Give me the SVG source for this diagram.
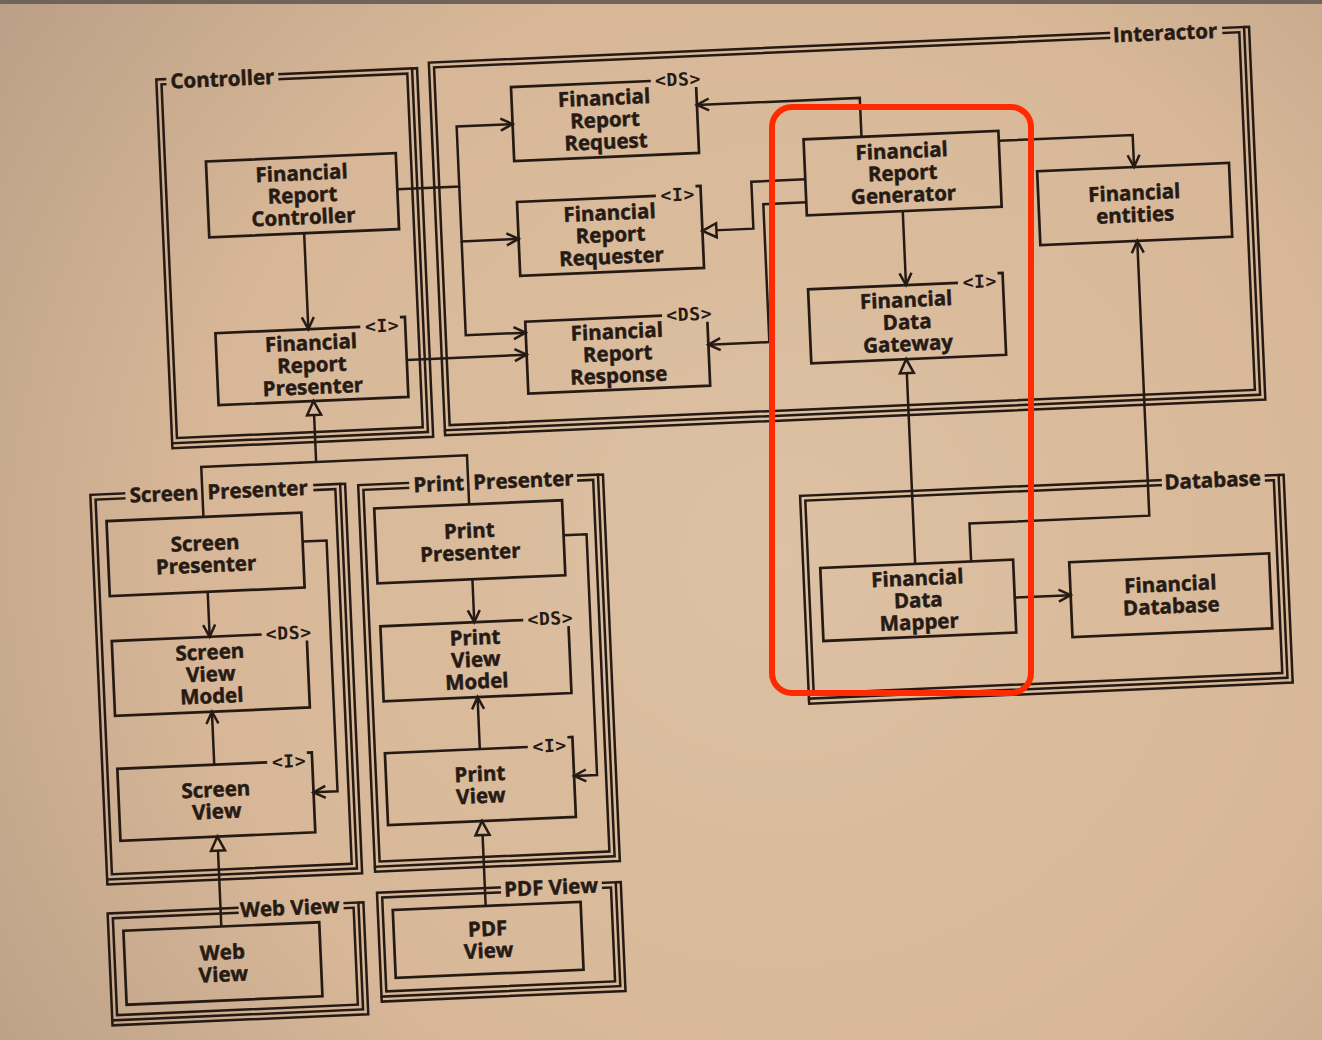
<svg xmlns="http://www.w3.org/2000/svg" width="1322" height="1040" viewBox="0 0 1322 1040">
<defs>
  <radialGradient id="paper" gradientUnits="userSpaceOnUse" cx="780" cy="560" r="980">
    <stop offset="0" stop-color="#ddc1a3"/>
    <stop offset="0.6" stop-color="#d7b797"/>
    <stop offset="1" stop-color="#b99d85"/>
  </radialGradient>
  <marker id="open" markerUnits="userSpaceOnUse" markerWidth="16" markerHeight="14" refX="13" refY="6" orient="auto" overflow="visible">
    <path d="M1,0 L13,6 L1,12" fill="none" stroke="#261a14" stroke-width="2.5"/>
  </marker>
  <marker id="tri" markerUnits="userSpaceOnUse" markerWidth="18" markerHeight="16" refX="15" refY="7" orient="auto" overflow="visible">
    <path d="M1,0 L15,7 L1,14 Z" fill="#d8ba9a" stroke="#261a14" stroke-width="2.5"/>
  </marker>
  <style>
    .pk{fill:none;stroke:#261a14;stroke-width:2.5}
    .bx{fill:none;stroke:#261a14;stroke-width:2.7}
    .ln{fill:none;stroke:#261a14;stroke-width:2.5}
    .ar{marker-end:url(#open)}
    .ih{marker-end:url(#tri)}
    .mask{fill:url(#paper)}
    .t{font-family:"Open Sans","Noto Sans","DejaVu Sans",sans-serif;font-weight:700;font-size:20.5px;fill:#261a14;stroke:#261a14;stroke-width:0.5;text-anchor:middle}
    .pl{font-family:"Open Sans","Noto Sans","DejaVu Sans",sans-serif;font-weight:700;font-size:20.5px;fill:#261a14;stroke:#261a14;stroke-width:0.5}
    .e{text-anchor:end}
    .st{font-family:"DejaVu Sans Mono","Liberation Mono",monospace;font-weight:700;font-size:18px;letter-spacing:0.6px;fill:#261a14;text-anchor:end}
  </style>
</defs>
<rect x="0" y="0" width="1322" height="1040" fill="#d6b696"/>
<g id="diagram" transform="rotate(-2.5 660 520)">
  <rect x="-120" y="-120" width="1562" height="1280" class="mask"/>

  <!-- packages -->
  <g id="pkg-controller">
    <rect class="pk" x="176" y="58" width="256" height="364"/>
    <rect class="pk" x="181" y="63" width="246" height="354"/>
    <path class="pk" d="M432,58 H437 V427 H176 V422"/>
    <rect class="mask" x="186" y="49" width="112" height="22"/>
    <text class="pl" x="190" y="67.5">Controller</text>
  </g>
  <g id="pkg-interactor">
    <rect class="pk" x="449" y="53" width="816" height="368"/>
    <rect class="pk" x="454" y="58" width="806" height="358"/>
    <path class="pk" d="M1265,53 H1270 V426 H449 V421"/>
    <rect class="mask" x="1131" y="44" width="112" height="22"/>
    <text class="pl e" x="1238" y="62.5">Interactor</text>
  </g>
  <g id="pkg-screen-presenter">
    <rect class="pk" x="92" y="470" width="250" height="385"/>
    <rect class="pk" x="97" y="475" width="240" height="375"/>
    <path class="pk" d="M342,470 H347 V860 H92 V855"/>
    <rect class="mask" x="127" y="461" width="188" height="22"/>
    <text class="pl e" x="200" y="479.5">Screen</text>
    <text class="pl" x="209" y="479.5">Presenter</text>
  </g>
  <g id="pkg-print-presenter">
    <rect class="pk" x="360" y="472" width="240" height="382"/>
    <rect class="pk" x="365" y="477" width="230" height="372"/>
    <path class="pk" d="M600,472 H605 V859 H360 V854"/>
    <rect class="mask" x="411" y="463" width="168" height="22"/>
    <text class="pl e" x="466" y="481.5">Print</text>
    <text class="pl" x="475" y="481.5">Presenter</text>
  </g>
  <g id="pkg-web-view">
    <rect class="pk" x="91" y="889" width="251" height="107"/>
    <rect class="pk" x="96" y="894" width="241" height="97"/>
    <path class="pk" d="M342,889 H347 V1001 H91 V996"/>
    <rect class="mask" x="222" y="880" width="105" height="22"/>
    <text class="pl e" x="323" y="898.5">Web View</text>
  </g>
  <g id="pkg-pdf-view">
    <rect class="pk" x="361" y="880" width="239" height="104"/>
    <rect class="pk" x="366" y="885" width="229" height="94"/>
    <path class="pk" d="M600,880 H605 V989 H361 V984"/>
    <rect class="mask" x="485" y="871" width="101" height="22"/>
    <text class="pl e" x="582" y="889.5">PDF View</text>
  </g>
  <g id="pkg-database">
    <rect class="pk" x="801" y="502" width="479" height="203"/>
    <rect class="pk" x="806" y="507" width="469" height="193"/>
    <path class="pk" d="M1280,502 H1285 V710 H801 V705"/>
    <rect class="mask" x="1163" y="493" width="103" height="22"/>
    <text class="pl e" x="1262" y="511.5">Database</text>
  </g>

  <!-- nodes -->
  <g id="financial-report-controller">
    <rect class="bx" x="222" y="142" width="190" height="76"/>
    <text class="t" x="317" y="165">Financial</text>
    <text class="t" x="317" y="187">Report</text>
    <text class="t" x="317" y="209">Controller</text>
  </g>
  <g id="financial-report-presenter">
    <path class="bx" d="M369,314 H224 V386 H414 V306 H409"/>
    <text class="st" x="408" y="320">&lt;I&gt;</text>
    <text class="t" x="319" y="335">Financial</text>
    <text class="t" x="319" y="357">Report</text>
    <text class="t" x="319" y="379">Presenter</text>
  </g>
  <g id="financial-report-request">
    <path class="bx" d="M670,81 H530 V155 H715 V89"/>
    <text class="st" x="720" y="87">&lt;DS&gt;</text>
    <text class="t" x="622.5" y="103">Financial</text>
    <text class="t" x="622.5" y="125">Report</text>
    <text class="t" x="622.5" y="147">Request</text>
  </g>
  <g id="financial-report-requester">
    <path class="bx" d="M670,196 H531 V270 H715 V188 H710"/>
    <text class="st" x="709" y="202">&lt;I&gt;</text>
    <text class="t" x="623" y="218">Financial</text>
    <text class="t" x="623" y="240">Report</text>
    <text class="t" x="623" y="262">Requester</text>
  </g>
  <g id="financial-report-response">
    <path class="bx" d="M671,316 H534 V388 H716 V324"/>
    <text class="st" x="721" y="322">&lt;DS&gt;</text>
    <text class="t" x="625" y="337">Financial</text>
    <text class="t" x="625" y="359">Report</text>
    <text class="t" x="625" y="381">Response</text>
  </g>
  <g id="financial-report-generator">
    <rect class="bx" x="820" y="146" width="195" height="76"/>
    <text class="t" x="917.5" y="169">Financial</text>
    <text class="t" x="917.5" y="191">Report</text>
    <text class="t" x="917.5" y="213">Generator</text>
  </g>
  <g id="financial-entities">
    <rect class="bx" x="1052" y="188" width="192" height="74"/>
    <text class="t" x="1148" y="221">Financial</text>
    <text class="t" x="1148" y="243">entities</text>
  </g>
  <g id="financial-data-gateway">
    <path class="bx" d="M968,296 H818 V370 H1013 V288 H1008"/>
    <text class="st" x="1007" y="302">&lt;I&gt;</text>
    <text class="t" x="915.5" y="318">Financial</text>
    <text class="t" x="915.5" y="340">Data</text>
    <text class="t" x="915.5" y="362">Gateway</text>
  </g>
  <g id="financial-data-mapper">
    <rect class="bx" x="818" y="575" width="193" height="73"/>
    <text class="t" x="914.5" y="596.5">Financial</text>
    <text class="t" x="914.5" y="618.5">Data</text>
    <text class="t" x="914.5" y="640.5">Mapper</text>
  </g>
  <g id="financial-database">
    <rect class="bx" x="1067" y="580" width="200" height="75"/>
    <text class="t" x="1167" y="613.5">Financial</text>
    <text class="t" x="1167" y="635.5">Database</text>
  </g>
  <g id="screen-presenter">
    <rect class="bx" x="107" y="497" width="195" height="75"/>
    <text class="t" x="204.5" y="530.5">Screen</text>
    <text class="t" x="204.5" y="552.5">Presenter</text>
  </g>
  <g id="screen-view-model">
    <path class="bx" d="M257,617 H107 V692 H302 V625"/>
    <text class="st" x="307" y="623">&lt;DS&gt;</text>
    <text class="t" x="204.5" y="639.5">Screen</text>
    <text class="t" x="204.5" y="661.5">View</text>
    <text class="t" x="204.5" y="683.5">Model</text>
  </g>
  <g id="screen-view">
    <path class="bx" d="M257,745 H107 V817 H302 V737 H297"/>
    <text class="st" x="296" y="751">&lt;I&gt;</text>
    <text class="t" x="204.5" y="777">Screen</text>
    <text class="t" x="204.5" y="799">View</text>
  </g>
  <g id="web-view">
    <rect class="bx" x="106" y="907" width="196" height="74"/>
    <text class="t" x="204" y="940">Web</text>
    <text class="t" x="204" y="962">View</text>
  </g>
  <g id="print-presenter">
    <rect class="bx" x="375" y="496" width="188" height="75"/>
    <text class="t" x="469" y="529.5">Print</text>
    <text class="t" x="469" y="551.5">Presenter</text>
  </g>
  <g id="print-view-model">
    <path class="bx" d="M519,614 H376 V689 H564 V622"/>
    <text class="st" x="569" y="620">&lt;DS&gt;</text>
    <text class="t" x="470" y="636.5">Print</text>
    <text class="t" x="470" y="658.5">View</text>
    <text class="t" x="470" y="680.5">Model</text>
  </g>
  <g id="print-view">
    <path class="bx" d="M518,741 H375 V813 H563 V733 H558"/>
    <text class="st" x="557" y="747">&lt;I&gt;</text>
    <text class="t" x="469" y="773">Print</text>
    <text class="t" x="469" y="795">View</text>
  </g>
  <g id="pdf-view">
    <rect class="bx" x="376" y="898" width="188" height="68"/>
    <text class="t" x="470" y="928">PDF</text>
    <text class="t" x="470" y="950">View</text>
  </g>

  <!-- connectors -->
  <g id="connectors">
    <path class="ln ar" d="M317,218 V314"/>
    <path class="ln ar" d="M412,178 H474 V118 H530"/>
    <path class="ln ar" d="M474,178 V233 H531"/>
    <path class="ln ar" d="M474,233 V327 H534"/>
    <path class="ln ar" d="M414,349 H534"/>
    <path class="ln ar" d="M878,146 V107 H715"/>
    <path class="ln ih" d="M820,186 H766 V233 H715"/>
    <path class="ln ar" d="M820,209 H777 V347 H716"/>
    <path class="ln ar" d="M916,222 V296"/>
    <path class="ln ar" d="M1015,156 H1149 V188"/>
    <path class="ln ih" d="M913,575 V370"/>
    <path class="ln ar" d="M969,575 V537 H1149 V262"/>
    <path class="ln ar" d="M1011,613 H1067"/>
    <path class="ln" d="M204,497 V447 H470 V496"/>
    <path class="ln ih" d="M319,447 V386"/>
    <path class="ln ar" d="M205,572 V617"/>
    <path class="ln ar" d="M302,526 H326 V777 H302"/>
    <path class="ln ar" d="M204,745 V692"/>
    <path class="ln ih" d="M204,907 V817"/>
    <path class="ln ar" d="M470,571 V614"/>
    <path class="ln ar" d="M563,531 H586 V772 H563"/>
    <path class="ln ar" d="M470,741 V689"/>
    <path class="ln ih" d="M469,898 V813"/>
  </g>
</g>
<rect x="0" y="0" width="1322" height="4" fill="#6f645b"/>
<rect id="highlight" x="772" y="107" width="259" height="586" rx="20" ry="20" fill="none" stroke="#ff2a00" stroke-width="6"/>
</svg>
